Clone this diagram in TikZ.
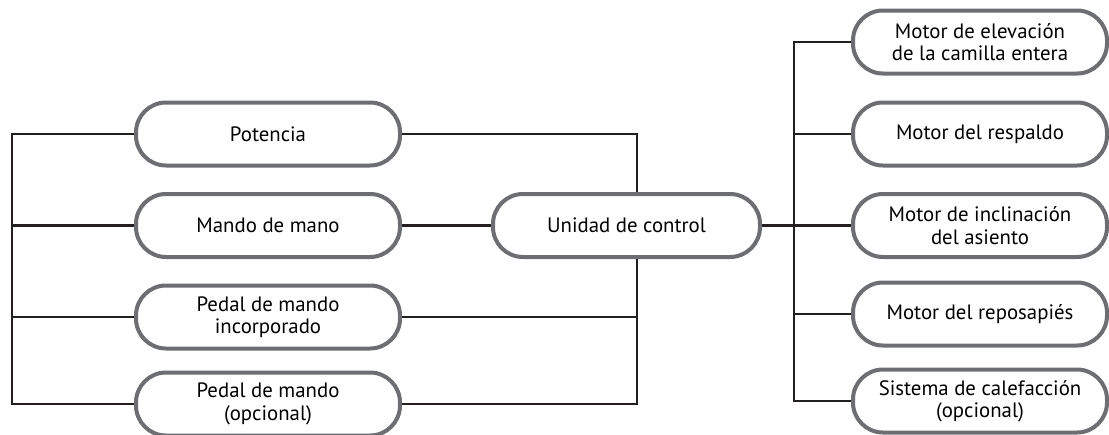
\documentclass[tikz,border=0pt]{standalone}
\usepackage{fontspec}
\setmainfont{PT Sans}
\usepackage{xcolor}
\usepackage{tikz}
\usetikzlibrary{positioning}

\definecolor{boxgray}{HTML}{6D6E71}
\definecolor{wireblack}{HTML}{231F20}

\begin{document}
\begin{tikzpicture}[
    x=0.5pt, y=-0.5pt,
    unitbox/.style={rectangle, draw=boxgray, line width=2pt, rounded corners=15pt, fill=white, minimum width=132pt, minimum height=31.5pt, inner sep=0pt, font=\fontsize{10.4}{11.2}\selectfont, align=center},
    motorbox/.style={unitbox, minimum width=127pt},
    wire/.style={draw=wireblack, line width=1.1pt},
]
    \useasboundingbox (0,0) rectangle (1109,434);

    % Input nodes (left column)
    \node[unitbox] (pot) at (268,134) {Potencia};
    \node[unitbox] (mano) at (268,225.5) {Mando de mano};
    \node[unitbox] (pedal) at (268,317) {Pedal de mando\\incorporado};
    \node[unitbox] (pedalop) at (268,404) {Pedal de mando\\(opcional)};

    % Control unit
    \node[unitbox, minimum width=133.5pt] (unit) at (626.5,225.5) {Unidad de control};

    % Output nodes (right column)
    \node[motorbox] (elev) at (980,42) {Motor de elevación\\de la camilla entera};
    \node[motorbox] (resp) at (980,134) {Motor del respaldo};
    \node[motorbox] (incl) at (980,225.5) {Motor de inclinación\\del asiento};
    \node[motorbox] (repo) at (980,314) {Motor del reposapiés};
    \node[motorbox] (calef) at (980,401) {Sistema de calefacción\\(opcional)};

    % Bus coordinates
    \coordinate (lbus) at (12,0);
    \coordinate (cbus) at (637,0);
    \coordinate (rbus) at (794,0);

    % Left bus
    \draw[wire] (pot.west) -| (lbus |- pedalop.west) -- (pedalop.west);
    \draw[wire] (mano.west) -- (mano.west -| lbus);
    \draw[wire] (pedal.west) -- (pedal.west -| lbus);

    % Inputs to control unit
    \draw[wire] (pot.east) -| (cbus |- unit.north);
    \draw[wire] (mano.east) -- (unit.west);
    \draw[wire] (cbus |- unit.south) |- (pedalop.east);
    \draw[wire] (pedal.east) -- (pedal.east -| cbus);

    % Control unit to outputs
    \draw[wire] (unit.east) -- (unit.east -| rbus);
    \draw[wire] (elev.west) -| (rbus |- calef.west) -- (calef.west);
    \draw[wire] (resp.west) -- (resp.west -| rbus);
    \draw[wire] (incl.west) -- (incl.west -| rbus);
    \draw[wire] (repo.west) -- (repo.west -| rbus);
\end{tikzpicture}
\end{document}
